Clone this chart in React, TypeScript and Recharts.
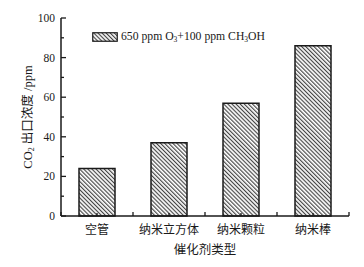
import React from 'react';
import { BarChart, Bar, XAxis, YAxis, Legend, Label } from 'recharts';

const categories = ['空管', '纳米立方体', '纳米颗粒', '纳米棒'];
const co2Values = [24, 37, 57, 86];
const yTicks = [0, 10, 20, 30, 40, 50, 60, 70, 80, 90, 100];
const yLabelTicks = [0, 20, 40, 60, 80, 100];

const data = categories.map((name, i) => ({ pos: i + 0.5, name, co2: co2Values[i] }));
const xTicks = categories.flatMap((_, i) => [i, i + 0.5]).concat([categories.length]);

const FONT = '"Liberation Serif", "Times New Roman", "Noto Sans CJK SC", serif';
const INK = '#1a1a1a';

const XTick = (props: any) => {
  const { x, y, payload } = props;
  const v = payload.value as number;
  const isCenter = v % 1 !== 0;
  return (
    <g>
      <line x1={x} x2={x} y1={y} y2={y - (isCenter ? 3 : 4)} stroke={INK} strokeWidth={1.3} />
      {isCenter && (
        <text x={x} y={y + 18} textAnchor="middle" fontSize={12} fontFamily={FONT} fill={INK}>
          {categories[Math.floor(v)]}
        </text>
      )}
    </g>
  );
};

const YTick = (props: any) => {
  const { x, y, payload } = props;
  const v = payload.value as number;
  const major = yLabelTicks.includes(v);
  return (
    <g>
      <line x1={x} x2={x + (major ? 5 : 3)} y1={y} y2={y} stroke={INK} strokeWidth={1.3} />
      {major && (
        <text x={x - 6} y={y + 4} textAnchor="end" fontSize={11.5} fontFamily={FONT} fill={INK}>
          {v}
        </text>
      )}
    </g>
  );
};

const HatchDefs = ({ id }: { id: string }) => (
  <defs>
    <pattern id={id} patternUnits="userSpaceOnUse" width={2.9} height={2.9} patternTransform="rotate(-45)">
      <rect width={2.9} height={2.9} fill="#ffffff" />
      <line x1={0.6} y1={0} x2={0.6} y2={2.9} stroke="#3a3a3a" strokeWidth={1.1} />
    </pattern>
  </defs>
);

const LegendContent = () => (
  <div style={{ display: 'flex', alignItems: 'center', fontFamily: FONT, fontSize: 11.7, color: INK, whiteSpace: 'nowrap' }}>
    <svg width={26} height={10} style={{ display: 'block' }}>
      <HatchDefs id="hatchLegend" />
      <rect x={0.75} y={0.75} width={24.5} height={8.5} fill="url(#hatchLegend)" stroke={INK} strokeWidth={1.2} />
    </svg>
    <span style={{ marginLeft: 3 }}>
      650 ppm O<sub style={{ fontSize: 7.5, verticalAlign: '-2px' }}>3</sub>+100 ppm CH<sub style={{ fontSize: 7.5, verticalAlign: '-2px' }}>3</sub>OH
    </span>
  </div>
);

const YLabel = (props: any) => {
  const { viewBox } = props;
  const cx = viewBox.x + 28;
  const cy = viewBox.y + viewBox.height / 2;
  return (
    <text x={cx} y={cy} transform={`rotate(-90, ${cx}, ${cy})`} textAnchor="middle" dominantBaseline="central" fontSize={12.5} fontFamily={FONT} fill={INK}>
      CO<tspan fontSize={8} dy={3}>2</tspan><tspan dy={-3}> 出口浓度 /ppm</tspan>
    </text>
  );
};

const XLabel = (props: any) => {
  const { viewBox } = props;
  const cx = viewBox.x + viewBox.width / 2;
  return (
    <text x={cx} y={viewBox.y + 38} textAnchor="middle" fontSize={12.5} fontFamily={FONT} fill={INK}>
      催化剂类型
    </text>
  );
};

export default function App() {
  return (
    <div style={{ position: 'absolute', left: 0, top: 0, background: '#fff' }}>
      <BarChart width={364} height={267} data={data} margin={{ top: 18, right: 15, bottom: 0, left: 0 }}>
        <HatchDefs id="hatchBar" />
        <XAxis
          dataKey="pos"
          type="number"
          domain={[0, categories.length]}
          ticks={xTicks}
          interval={0}
          tickSize={0}
          tickMargin={0}
          height={51}
          tick={<XTick />}
          tickLine={false}
          axisLine={{ stroke: INK, strokeWidth: 1.5 }}
          allowDataOverflow
        >
          <Label content={<XLabel />} />
        </XAxis>
        <YAxis
          type="number"
          domain={[0, 100]}
          ticks={yTicks}
          interval={0}
          width={61}
          tickSize={0}
          tickMargin={0}
          tick={<YTick />}
          tickLine={false}
          axisLine={{ stroke: INK, strokeWidth: 1.5 }}
        >
          <Label content={<YLabel />} />
        </YAxis>
        <Legend
          layout="horizontal"
          verticalAlign="middle"
          align="center"
          content={<LegendContent />}
          wrapperStyle={{ left: 92, top: 30, width: 'auto' }}
        />
        <Bar dataKey="co2" barSize={36} fill="url(#hatchBar)" stroke={INK} strokeWidth={1.5} isAnimationActive={false} />
      </BarChart>
    </div>
  );
}
